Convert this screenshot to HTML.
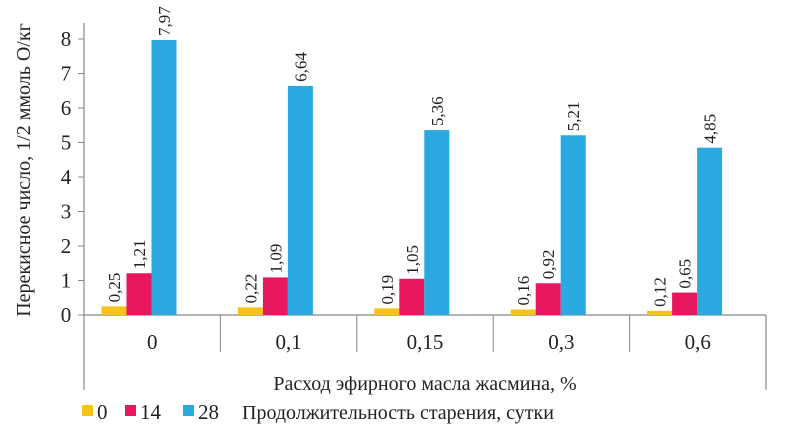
<!DOCTYPE html>
<html><head><meta charset="utf-8"><style>
html,body{margin:0;padding:0;background:#fff;}
svg{display:block;font-family:"Liberation Serif",serif;}
</style></head><body>
<svg id="chart" width="785" height="434" viewBox="0 0 785 434"></svg>
<script>
const categories=["0","0,1","0,15","0,3","0,6"];
const seriesNames=["0","14","28"];
const s0=[0.25,0.22,0.19,0.16,0.12];
const s14=[1.21,1.09,1.05,0.92,0.65];
const s28=[7.97,6.64,5.36,5.21,4.85];
const yTicks=[0,1,2,3,4,5,6,7,8];
const colors=["#f7c21b","#e6175e","#29a9e0"];
const series=[s0,s14,s28];
const NS="http://www.w3.org/2000/svg";
const svg=document.getElementById('chart');
const x0=84,x1=766,base=315,unit=34.5;
const catW=(x1-x0)/categories.length;
const y=v=>base-v*unit;
function mk(t,a,p){const e=document.createElementNS(NS,t);for(const k in a)e.setAttribute(k,a[k]);(p||svg).appendChild(e);return e;}
// axes
let e=mk('line',{x1:x0,y1:23,x2:x0,y2:390,stroke:'#888','stroke-width':1.2});


e=mk('line',{x1:x0,y1:base,x2:x1,y2:base,stroke:'#888','stroke-width':1.2});


e=mk('line',{x1:x1,y1:base,x2:x1,y2:390,stroke:'#888','stroke-width':1.2});


yTicks.forEach(t=>{
  let l=mk('line',{x1:x0-6,y1:y(t),x2:x0,y2:y(t),stroke:'#888'});
  
  
  let tx=mk('text',{x:66,y:y(t)+7,'font-size':21,'text-anchor':'middle',fill:'#222'});
  tx.textContent=t;
  
  
});
categories.forEach((c,i)=>{
  const cx=x0+i*catW;
  if(i>0){let l=mk('line',{x1:cx,y1:base,x2:cx,y2:352,stroke:'#888'});
    
    }
  let tx=mk('text',{x:cx+catW/2,y:349,'font-size':21,'text-anchor':'middle',fill:'#222'});
  tx.textContent=c;
  
  
  series.forEach((s,j)=>{
    const bx=cx+17.5+j*25, v=s[i];
    let r=mk('rect',{x:bx,y:y(v),width:25,height:v*unit,fill:colors[j]});
    
    
    const lx=bx+12.5+6, ly=y(v)-4;
    let t=mk('text',{x:lx,y:ly,'font-size':17,fill:'#222',transform:`rotate(-90 ${lx} ${ly})`});
    t.textContent=v.toFixed(2).replace('.',',');
    
    
  });
});
e=mk('text',{x:30,y:170,'font-size':20,'text-anchor':'middle',fill:'#222',transform:'rotate(-90 30 170)'});
e.textContent='Перекисное  число, 1/2 ммоль О/кг';


e=mk('text',{x:425,y:390,'font-size':20,'text-anchor':'middle',fill:'#222'});
e.textContent='Расход эфирного масла жасмина, %';


const lx=[82,125,183];
seriesNames.forEach((n,j)=>{
  let r=mk('rect',{x:lx[j],y:405,width:11,height:11,fill:colors[j]});
  
  
  let t=mk('text',{x:lx[j]+15,y:419,'font-size':21,fill:'#222'});
  t.textContent=n;
  
  
});
e=mk('text',{x:242,y:419,'font-size':20,fill:'#222'});
e.textContent='Продолжительность старения, сутки';


</script>
</body></html>
